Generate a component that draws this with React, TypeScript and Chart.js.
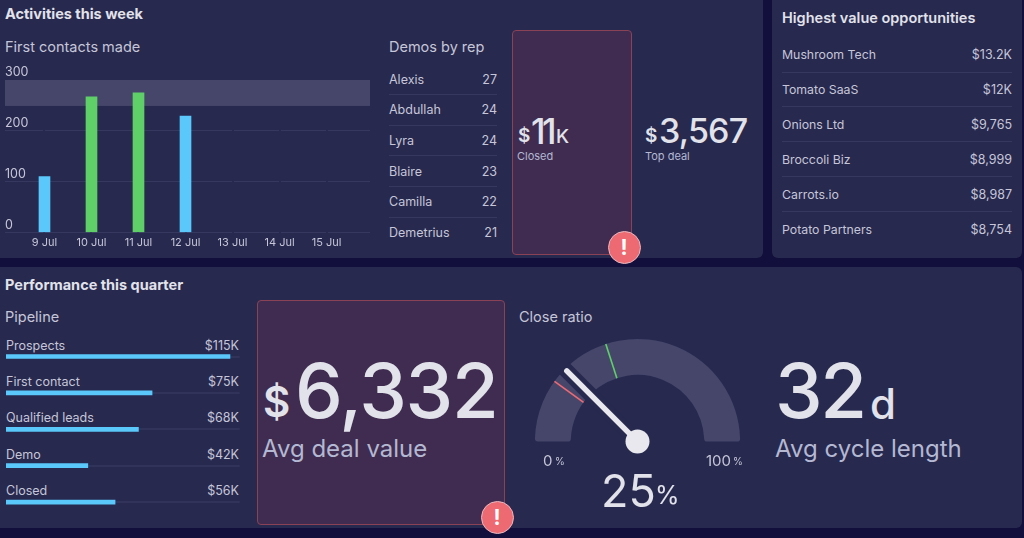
import React, { useEffect, useRef } from "react";
import { Chart, registerables } from "chart.js";

Chart.register(...registerables);

const FONT = "Inter, 'Noto Sans', sans-serif";
const PANEL = "#27294f";
const TEXT = "#e2e2ea";
const SOFT = "#c6c6d8";
const MUTED = "#b4b8d2";
const LINE = "#363860";
const BLUE = "#5ac8fa";
const GREEN = "#5fd068";

// First contacts made
const days = ["9 Jul", "10 Jul", "11 Jul", "12 Jul", "13 Jul", "14 Jul", "15 Jul"];
const contacts = [110, 267, 275, 229];
const contactColors = [BLUE, GREEN, GREEN, BLUE];
const targetBand = [249, 300];

// Demos by rep
const reps = ["Alexis", "Abdullah", "Lyra", "Blaire", "Camilla", "Demetrius"];
const demos = [27, 24, 24, 23, 22, 21];

// Highest value opportunities
const opportunities = ["Mushroom Tech", "Tomato SaaS", "Onions Ltd", "Broccoli Biz", "Carrots.io", "Potato Partners"];
const opportunityValues = ["$13.2K", "$12K", "$9,765", "$8,999", "$8,987", "$8,754"];

// Pipeline
const stages = ["Prospects", "First contact", "Qualified leads", "Demo", "Closed"];
const stageValues = [115, 75, 68, 42, 56];
const stageMax = 120;

// Close ratio
const closeRatio = 25;
const lowMark = 20;
const highMark = 40;

type TP = { x: number; y: number; s: number; w?: number; c?: string; right?: boolean; children: React.ReactNode; ls?: number };
function T({ x, y, s, w = 400, c = SOFT, right, children, ls = 0 }: TP) {
  const st: React.CSSProperties = {
    position: "absolute", top: y, transform: "translateY(-50%)", fontSize: s, fontWeight: w, color: c,
    whiteSpace: "nowrap", lineHeight: 1, letterSpacing: ls, fontFamily: FONT,
  };
  if (right) st.right = 1024 - x; else st.left = x;
  return <div style={st}>{children}</div>;
}

function Box({ x, y, w, h, bg, r = 6, border }: { x: number; y: number; w: number; h: number; bg: string; r?: number; border?: string }) {
  return <div style={{ position: "absolute", left: x, top: y, width: w, height: h, background: bg, borderRadius: r, border, boxSizing: "border-box" }} />;
}

function Badge({ x, y }: { x: number; y: number }) {
  return (
    <div style={{
      position: "absolute", left: x - 16.5, top: y - 16.5, width: 33, height: 33, borderRadius: "50%", background: "#ee6a73",
      border: "1px solid #e8b8c0", boxSizing: "border-box", color: "#fff", fontFamily: FONT, fontWeight: 700, fontSize: 21,
      display: "flex", alignItems: "center", justifyContent: "center",
    }}>!</div>
  );
}

function App() {
  const barRef = useRef<HTMLCanvasElement>(null);
  const pipeRef = useRef<HTMLCanvasElement>(null);
  const gaugeRef = useRef<HTMLCanvasElement>(null);

  useEffect(() => {
    document.body.style.margin = "0";
    document.body.style.background = "#130f3c";

    const bandPlugin = {
      id: "band",
      beforeDatasetsDraw(chart: any) {
        const { ctx, chartArea, scales } = chart;
        const top = scales.y.getPixelForValue(targetBand[1]);
        const bottom = scales.y.getPixelForValue(targetBand[0]);
        ctx.save();
        ctx.fillStyle = "#46466b";
        ctx.fillRect(chartArea.left, top, chartArea.right - chartArea.left, bottom - top);
        ctx.restore();
      },
    };

    const bar = new Chart(barRef.current!, {
      type: "bar",
      data: {
        datasets: [{
          data: contacts.map((v, i) => ({ x: i, y: v })) as any,
          backgroundColor: contactColors,
          barThickness: 11,
        }],
      },
      options: {
        animation: false, responsive: false, devicePixelRatio: 1,
        layout: { padding: { left: 5, right: 10, top: 20, bottom: 0 } },
        plugins: { legend: { display: false }, tooltip: { enabled: false } },
        scales: {
          x: {
            type: "linear", min: -0.84, max: 6.925, offset: false,
            afterFit: (s: any) => { s.height = 22.5; },
            border: { display: false },
            grid: { color: PANEL, lineWidth: 2, offset: false, drawTicks: false, z: -1 },
            ticks: {
              stepSize: 1, includeBounds: false, autoSkip: false, maxRotation: 0, padding: 4,
              color: SOFT, font: { family: FONT, size: 11 },
              callback: (v: any) => days[v] ?? "",
            },
          },
          y: {
            min: 0, max: 300,
            border: { display: false },
            grid: { color: LINE, drawTicks: false, z: -2 },
            ticks: {
              stepSize: 100, mirror: true, padding: 0,
              color: SOFT, font: { family: FONT, size: 12.5, lineHeight: "15px" },
              callback: (v: any) => [String(v), ""],
            },
          },
        },
      } as any,
      plugins: [bandPlugin],
    });

    const pipe = new Chart(pipeRef.current!, {
      type: "bar",
      data: {
        labels: stages,
        datasets: [{ data: stageValues, backgroundColor: BLUE, barThickness: 4 }],
      },
      options: {
        indexAxis: "y", animation: false, responsive: false, devicePixelRatio: 1,
        layout: { padding: { left: 6, right: 10.3, top: 8.3, bottom: 4.7 } },
        plugins: { legend: { display: false }, tooltip: { enabled: false } },
        scales: {
          x: { display: false, min: 0, max: stageMax },
          y: {
            border: { display: false },
            grid: { color: "#31335a", lineWidth: 2, offset: false, drawTicks: false },
            ticks: { display: false },
          },
        },
      } as any,
    });

    const gaugePlugin = {
      id: "gaugeMarks",
      afterDatasetsDraw(chart: any) {
        const { ctx } = chart;
        const arc = chart.getDatasetMeta(0).data[0];
        const { x, y, innerRadius: ri, outerRadius: ro } = arc;
        const ang = (v: number) => -Math.PI + (v / 100) * Math.PI;
        const seg = (v: number, a: number, b: number, color: string, width: number, cap: CanvasLineCap = "butt") => {
          const t = ang(v);
          ctx.beginPath();
          ctx.moveTo(x + Math.cos(t) * a, y + Math.sin(t) * a);
          ctx.lineTo(x + Math.cos(t) * b, y + Math.sin(t) * b);
          ctx.strokeStyle = color;
          ctx.lineWidth = width;
          ctx.lineCap = cap;
          ctx.stroke();
        };
        ctx.save();
        seg(lowMark, ri, ro, "#ee6a73", 1.6);
        seg(highMark, ri, ro, GREEN, 1.6);
        seg(closeRatio, 0, ro + 2, PANEL, 15);
        seg(closeRatio, 0, 100, "#e8e8ee", 5.5, "round");
        ctx.beginPath();
        ctx.arc(x, y, 12, 0, Math.PI * 2);
        ctx.fillStyle = "#e8e8ee";
        ctx.fill();
        ctx.restore();
      },
    };

    const gauge = new Chart(gaugeRef.current!, {
      type: "doughnut",
      data: {
        datasets: [{
          data: [closeRatio, 100 - closeRatio],
          backgroundColor: ["#46466b", "#46466b"],
          borderWidth: 0,
          borderRadius: 3,
        }],
      },
      options: {
        animation: false, responsive: false, devicePixelRatio: 1,
        rotation: -90, circumference: 180, cutout: "65%",
        layout: { padding: { left: 4.9, right: 4.9, top: 4, bottom: 18.4 } },
        plugins: { legend: { display: false }, tooltip: { enabled: false } },
      } as any,
      plugins: [gaugePlugin],
    });

    return () => { bar.destroy(); pipe.destroy(); gauge.destroy(); };
  }, []);

  const repY = [79.5, 110, 140.5, 171.5, 202, 233];
  const repLine = [94, 125, 155, 186, 217];
  const oppY = [55, 89.5, 124.5, 159.5, 194.5, 229.5];
  const oppLine = [72, 106, 141, 176, 211];
  const stageY = [345.5, 381.5, 417.5, 454.5, 490.5];

  return (
    <div style={{ position: "fixed", left: 0, top: 0, width: 1024, height: 538, overflow: "hidden", background: "#130f3c", fontFamily: FONT }}>
      <Box x={-8} y={-8} w={771} h={266} bg={PANEL} />
      <Box x={772} y={-8} w={250} h={266} bg={PANEL} />
      <Box x={-8} y={267} w={1030} h={261} bg={PANEL} />

      <T x={5} y={14} s={14.5} w={700} c={TEXT}>Activities this week</T>
      <T x={5} y={47} s={14.5}>First contacts made</T>
      <canvas ref={barRef} width={380} height={195} style={{ position: "absolute", left: 0, top: 60 }} />

      <T x={389} y={47} s={14.5}>Demos by rep</T>
      {reps.map((r, i) => <T key={r} x={389} y={repY[i]} s={12.5}>{r}</T>)}
      {demos.map((d, i) => <T key={i} x={497} y={repY[i]} s={12.5} right>{d}</T>)}
      {repLine.map((y) => <Box key={y} x={389} y={y} w={108} h={1} r={0} bg={LINE} />)}

      <Box x={512} y={30} w={120} h={225} r={4} bg="#3f2c50" border="1px solid #8a4257" />
      <T x={518} y={135} s={19} w={600} c={TEXT}>$</T>
      <T x={531} y={131} s={35} w={500} c={TEXT} ls={-3.5}>11</T>
      <T x={556} y={135.5} s={19} w={500} c={TEXT}>K</T>
      <T x={517} y={156} s={11} c={MUTED}>Closed</T>
      <Badge x={624} y={247} />

      <T x={645} y={135} s={19} w={600} c={TEXT}>$</T>
      <T x={659} y={131} s={34} w={500} c={TEXT} ls={-0.8}>3,567</T>
      <T x={645} y={156} s={11} c={MUTED}>Top deal</T>

      <T x={782} y={18} s={14.5} w={600} c={TEXT}>Highest value opportunities</T>
      {opportunities.map((o, i) => <T key={o} x={782} y={oppY[i]} s={12.3}>{o}</T>)}
      {opportunityValues.map((v, i) => <T key={v} x={1012} y={oppY[i]} s={12.5} right>{v}</T>)}
      {oppLine.map((y) => <Box key={y} x={782} y={y} w={230} h={1} r={0} bg={LINE} />)}

      <T x={5} y={285} s={14.5} w={700} c={TEXT}>Performance this quarter</T>
      <T x={5} y={317} s={14.5}>Pipeline</T>
      {stages.map((s, i) => <T key={s} x={6} y={stageY[i]} s={12.5}>{s}</T>)}
      {stageValues.map((v, i) => <T key={i} x={239} y={stageY[i]} s={12.5} right>{"$" + v + "K"}</T>)}
      <canvas ref={pipeRef} width={250} height={195} style={{ position: "absolute", left: 0, top: 330 }} />

      <Box x={257} y={300} w={248} h={225} r={4} bg="#3f2c50" border="1px solid #8a4257" />
      <T x={263} y={402} s={42} w={600} c={TEXT}>$</T>
      <T x={295} y={390} s={76} w={550} c={TEXT} ls={-1.2}>6,332</T>
      <T x={262} y={449} s={24} c={MUTED}>Avg deal value</T>
      <Badge x={497} y={517} />

      <T x={519} y={317} s={14.5}>Close ratio</T>
      <canvas ref={gaugeRef} width={215} height={125} style={{ position: "absolute", left: 530, top: 335 }} />
      <T x={543} y={460} s={15}>0</T>
      <T x={555} y={461} s={10}>%</T>
      <T x={706} y={460} s={15}>100</T>
      <T x={733} y={461} s={10}>%</T>
      <T x={601} y={490} s={45} c={TEXT}>25</T>
      <T x={655} y={495} s={25} c={TEXT}>%</T>

      <T x={775} y={390} s={76} w={550} c={TEXT} ls={-2.5}>32</T>
      <T x={870} y={404} s={42} w={550} c={TEXT}>d</T>
      <T x={775} y={449} s={24} c={MUTED}>Avg cycle length</T>
    </div>
  );
}

export default App;
